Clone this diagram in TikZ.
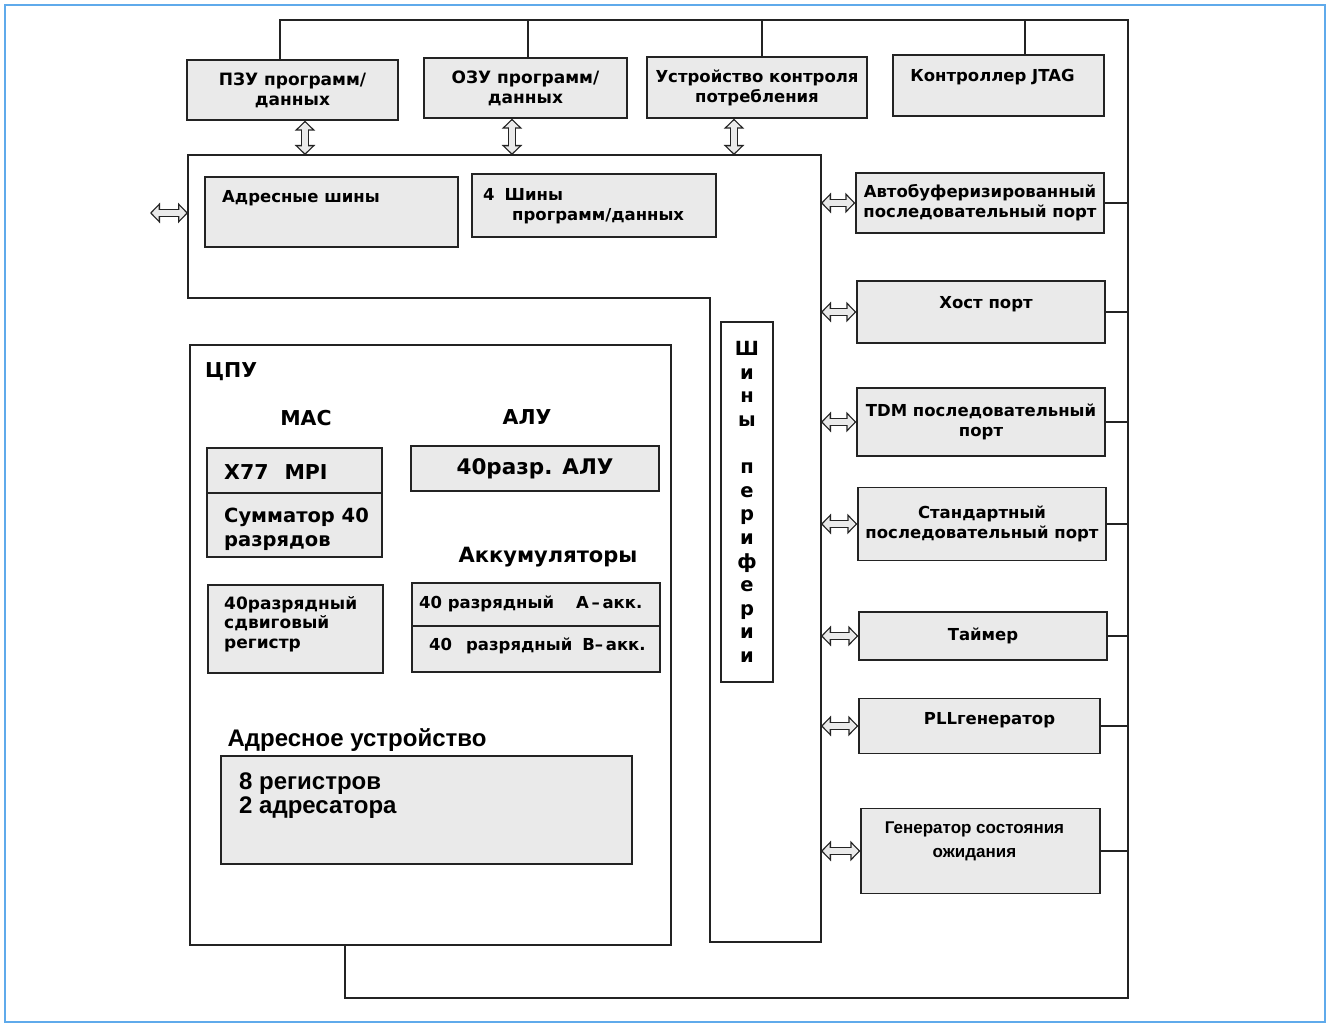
\documentclass[tikz,border=0pt]{standalone}
\usepackage{fontspec}
\setmainfont{DejaVu Sans}
\newfontfamily\narrowfont{Liberation Sans}
\usetikzlibrary{arrows.meta, positioning, calc}
\definecolor{boxgray}{RGB}{234,234,234}
\definecolor{linegray}{RGB}{35,35,35}
\definecolor{frameblue}{RGB}{95,170,235}

\begin{document}
\begin{tikzpicture}[
            x=1pt, y=-1pt,
            box/.style={draw=linegray, fill=boxgray, line width=1.4pt, inner sep=2pt, align=center, font=\fontsize{16.5}{20}\selectfont\bfseries},
            frame/.style={draw=linegray, fill=white, line width=1.3pt},
            lbl/.style={inner sep=0pt, align=left, font=\fontsize{16.5}{20}\selectfont\bfseries},
            biglbl/.style={inner sep=0pt, align=left, font=\fontsize{20.5}{24}\selectfont\bfseries},
            dblarrow/.style={draw=boxgray, line width=5.4pt, shorten >=1.8pt, shorten <=1.8pt,
                {Triangle[length=6.9pt, width=13.8pt]}-{Triangle[length=6.9pt, width=13.8pt]},
                preaction={draw=linegray, line width=8pt, shorten >=0pt, shorten <=0pt,
                {Triangle[length=10pt, width=20pt]}-{Triangle[length=10pt, width=20pt]}}},
            wire/.style={draw=linegray, line width=1.3pt}
        ]
            \useasboundingbox (0,0) rectangle (1331,1027);
            \draw[frameblue, line width=1.5pt] (5,5) rectangle (1325,1022);

            % memory and control row
            \node[box, font=\fontsize{17}{20}\selectfont\bfseries, minimum width=211pt, minimum height=60pt] (pzu) at (292.5,90) {ПЗУ программ/\\данных};
            \node[box, font=\fontsize{17}{20}\selectfont\bfseries, minimum width=203pt, minimum height=60pt] (ozu) at (525.5,88) {ОЗУ программ/\\данных};
            \node[box, minimum width=220pt, minimum height=61pt] (pwr) at (757,87.5) {Устройство контроля\\потребления};
            \node[box, minimum width=211pt, minimum height=61pt] (jtag) at (998.5,85.5) {};
            \node[lbl] at ([xshift=-6pt, yshift=8.5pt]jtag.center) {Контроллер JTAG};

            % internal buses
            \draw[frame] (188,155) coordinate (bustop) -- (821,155) coordinate (busR) -- (821,942) -- (710,942) -- (710,298) -- (188,298) -- cycle;
            \node[box, minimum width=253pt, minimum height=70pt] (abus) at (331.5,212) {};
            \node[lbl, anchor=west] at (222,198) {Адресные шины};
            \node[box, minimum width=244pt, minimum height=63pt] (pdbus) at (594,205.5) {};
            \node[lbl, anchor=west] at (483,206) {4\hspace{10pt}Шины\\\hspace*{29pt}программ/данных};
            \node[box, fill=white, minimum width=52pt, minimum height=360pt, font=\fontsize{19.5}{23.6}\selectfont\bfseries] (pbus) at (747,502) {Ш\\и\\н\\ы\\[23.6pt]п\\е\\р\\и\\ф\\е\\р\\и\\и};

            % CPU
            \node[frame, minimum width=481pt, minimum height=600pt] (cpu) at (430.5,645) {};
            \node[biglbl, anchor=west] at (205,372) {ЦПУ};
            \node[biglbl] at (306,418) {МАС};
            \node[biglbl] at (527,417) {АЛУ};
            \node[box, minimum width=175pt, minimum height=109pt] (mac) at (294.5,502.5) {};
            \draw[wire] (mac.west |- 0,493) -- (mac.east |- 0,493);
            \node[biglbl, anchor=west] at (224,472) {X77\hspace{16pt}MPI};
            \node[biglbl, anchor=west, font=\fontsize{19.5}{24}\selectfont\bfseries] at (224,529) {Сумматор 40\\разрядов};
            \node[box, minimum width=248pt, minimum height=45pt, font=\fontsize{21.5}{24}\selectfont\bfseries] (alu) at (535,468.5) {40разр. АЛУ};
            \node[biglbl, font=\fontsize{21}{24}\selectfont\bfseries] at (548,557) {Аккумуляторы};
            \node[box, minimum width=248pt, minimum height=89pt] (acc) at (536,627.5) {};
            \draw[wire] (acc.west |- 0,626) -- (acc.east |- 0,626);
            \node[lbl, anchor=west] at (419,604) {40 разрядный\hspace{22pt}А\,–\,акк.};
            \node[lbl, anchor=west] at (429,646) {40\hspace{14pt}разрядный\hspace{10pt}В–\,акк.};
            \node[box, minimum width=175pt, minimum height=88pt] (shreg) at (295.5,629) {};
            \node[lbl, anchor=west, font=\fontsize{17}{19.5}\selectfont\bfseries] at (224,624) {40разрядный\\сдвиговый\\регистр};
            \node[biglbl, font=\fontsize{24}{24}\narrowfont\bfseries] at (357,740) {Адресное устройство};
            \node[box, minimum width=411pt, minimum height=108pt] (addr) at (426.5,810) {};
            \node[biglbl, anchor=west, font=\fontsize{24}{24}\narrowfont\bfseries] at (239,796) {8 регистров\\2 адресатора};

            % peripherals
            \node[box, minimum width=248pt, minimum height=60pt] (abp) at (980,203) {Автобуферизированный\\последовательный порт};
            \node[box, minimum width=248pt, minimum height=62pt] (host) at (981,312) {};
            \node[lbl] at ([xshift=5pt, yshift=8pt]host.center) {Хост порт};
            \node[box, minimum width=248pt, minimum height=68pt] (tdm) at (981,422) {TDM последовательный\\порт};
            \node[box, minimum width=248pt, minimum height=73pt] (std) at (982,524) {Стандартный\\последовательный порт};
            \node[box, minimum width=248pt, minimum height=48pt] (timer) at (983,636) {Таймер};
            \node[box, minimum width=241pt, minimum height=55pt] (pll) at (979.5,726) {};
            \node[lbl] at ([xshift=10pt, yshift=6pt]pll.center) {PLLгенератор};
            \node[box, minimum width=239pt, minimum height=85pt] (wait) at (980.5,851) {};
            \node[lbl, align=center, font=\fontsize{17}{24}\narrowfont\bfseries] at ([xshift=-6pt, yshift=9.5pt]wait.center) {Генератор состояния\\ожидания};

            % control line
            \coordinate (rail) at (1128,20);
            \coordinate (base) at (1128,998);
            \draw[wire] ([xshift=-12.5pt]pzu.north) |- (rail) -- (base) -| ([xshift=-85.5pt]cpu.south);
            \draw[wire] ([xshift=2.5pt]ozu.north) -- ([xshift=2.5pt]ozu.north |- rail);
            \draw[wire] ([xshift=5pt]pwr.north) -- ([xshift=5pt]pwr.north |- rail);
            \draw[wire] ([xshift=26.5pt]jtag.north) -- ([xshift=26.5pt]jtag.north |- rail);
            \foreach \p in {abp, host, tdm, std, timer, pll, wait}
                \draw[wire] (\p.east) -- (\p.east -| rail);

            % bus links
            \foreach \p in {abp, host, tdm, std, timer, pll, wait}
                \draw[dblarrow] (\p.west -| busR) -- (\p.west);
            \draw[dblarrow] ([xshift=12.5pt]pzu.south) -- ([xshift=12.5pt]pzu.south |- bustop);
            \draw[dblarrow] ([xshift=-13.5pt]ozu.south) -- ([xshift=-13.5pt]ozu.south |- bustop);
            \draw[dblarrow] ([xshift=-23pt]pwr.south) -- ([xshift=-23pt]pwr.south |- bustop);
            \coordinate (extport) at (150,213);
            \draw[dblarrow] (extport) -- (extport -| bustop);
        \end{tikzpicture}
\end{document}
